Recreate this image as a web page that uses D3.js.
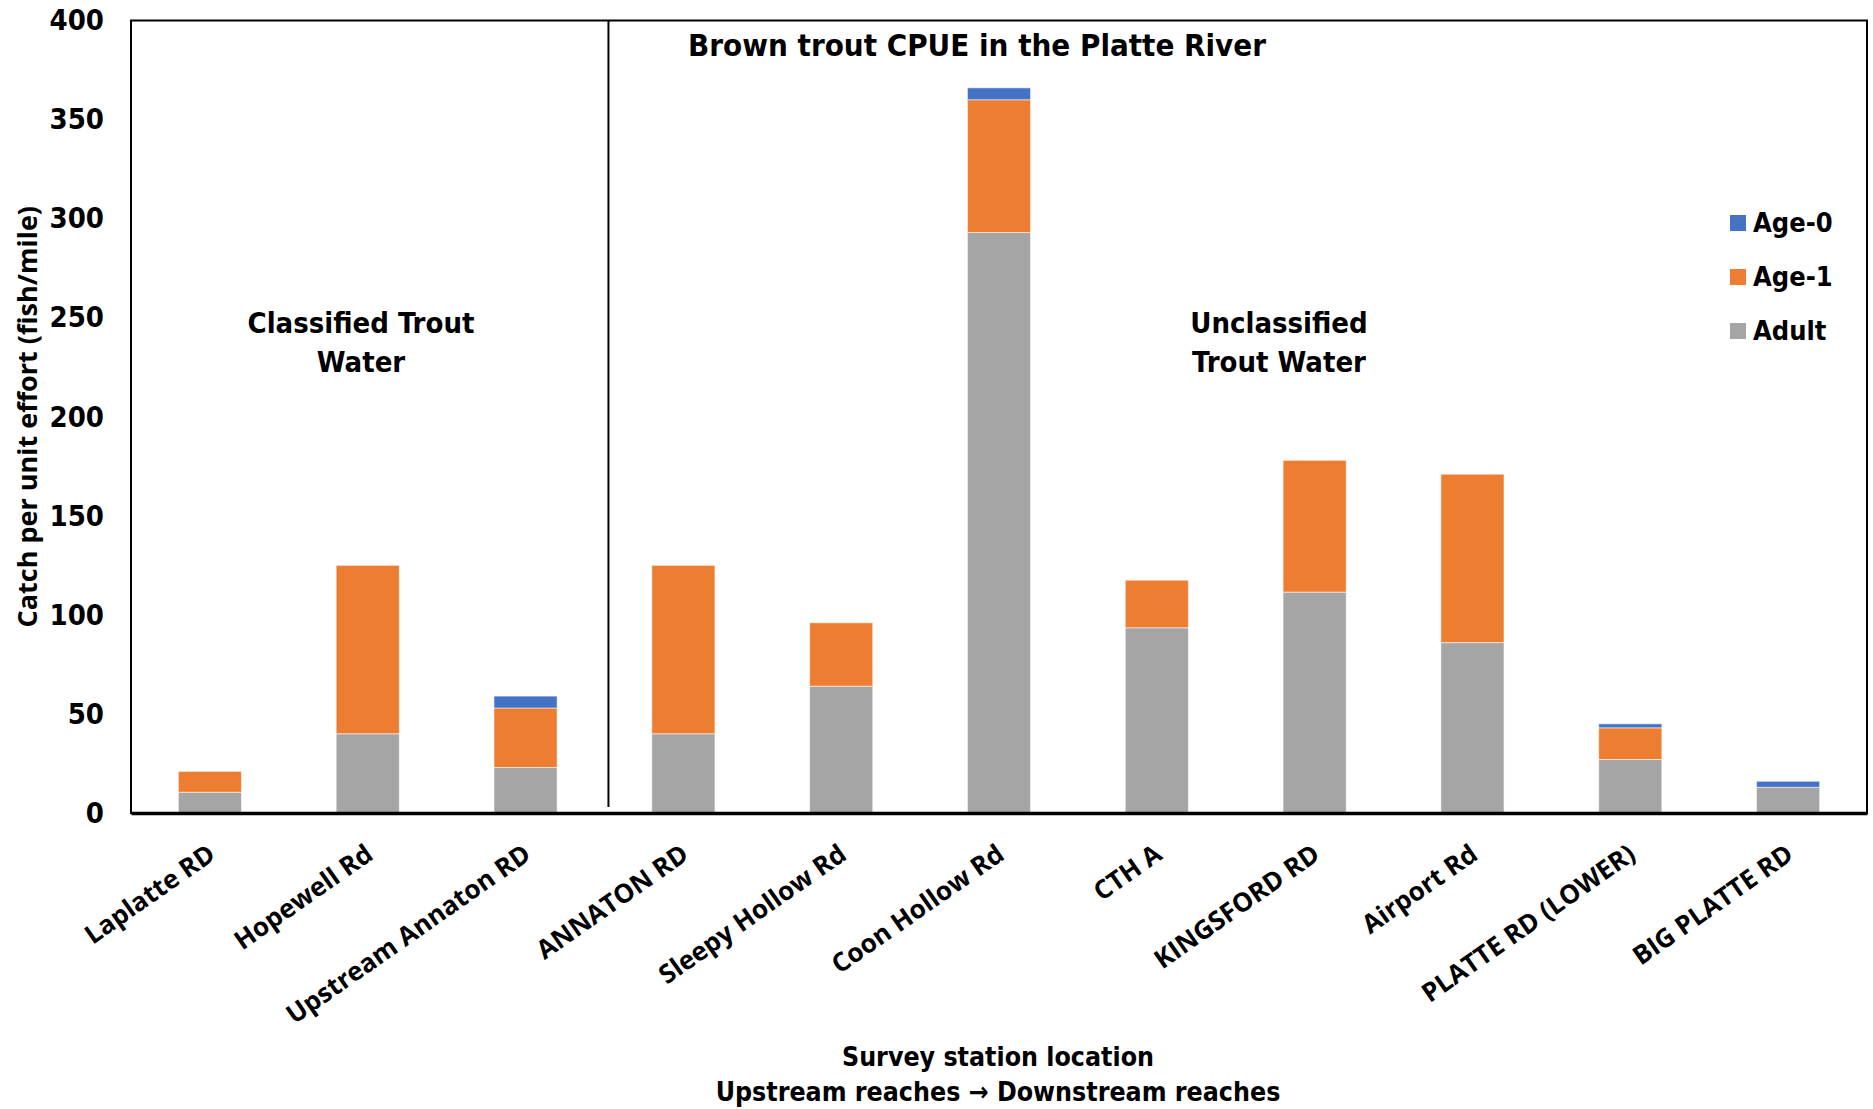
<!DOCTYPE html>
<html>
<head>
<meta charset="utf-8">
<script src="https://cdn.jsdelivr.net/npm/d3@7"></script>
<style>
  body { margin: 0; background: #ffffff; }
</style>
</head>
<body>
<svg id="chart" width="1873" height="1109"></svg>
<script>
// Survey stations, upstream to downstream
const stations = [
  "Laplatte RD", "Hopewell Rd", "Upstream Annaton RD", "ANNATON RD",
  "Sleepy Hollow Rd", "Coon Hollow Rd", "CTH A", "KINGSFORD RD",
  "Airport Rd", "PLATTE RD (LOWER)", "BIG PLATTE RD"
];
// Catch per unit effort (fish/mile) by age class
const adult = [10.5, 40, 23, 40, 64, 293, 93.5, 111.5, 86, 27, 13];
const age1  = [10.5, 85, 30, 85, 32, 67, 24, 66.5, 85, 16, 0];
const age0  = [0, 0, 6, 0, 0, 6, 0, 0, 0, 2, 3];

const seriesKeys = ["Adult", "Age-1", "Age-0"];
const seriesColors = ["#a5a5a5", "#ed7d31", "#4472c4"];
const legendKeys = ["Age-0", "Age-1", "Adult"];
const yTicks = [0, 50, 100, 150, 200, 250, 300, 350, 400];
const classifiedCount = 3; // first three stations are classified trout water

const condensed = "'Liberation Sans Narrow','DejaVu Sans Condensed','Roboto',sans-serif";
const wide = "'Open Sans','Noto Sans',sans-serif";

const svg = d3.select("#chart");
const plot = { left: 131, right: 1867, top: 20.5, bottom: 813 };

const x = d3.scaleBand()
  .domain(stations)
  .range([plot.left, plot.right])
  .paddingInner(0.6)
  .paddingOuter(0.3);

const y = d3.scaleLinear()
  .domain([0, 400])
  .range([plot.bottom, plot.top]);

const rows = stations.map((s, i) => ({
  station: s, "Adult": adult[i], "Age-1": age1[i], "Age-0": age0[i]
}));
const stacked = d3.stack().keys(seriesKeys)(rows);
const color = d3.scaleOrdinal().domain(seriesKeys).range(seriesColors);

// stacked bars
svg.append("g")
  .selectAll("g")
  .data(stacked)
  .join("g")
    .attr("fill", d => color(d.key))
  .selectAll("rect")
  .data(d => d.filter(p => p[1] - p[0] > 0))
  .join("rect")
    .attr("x", d => x(d.data.station))
    .attr("width", x.bandwidth())
    .attr("y", d => y(d[1]))
    .attr("height", d => y(d[0]) - y(d[1]))
    .attr("stroke", "#ffffff")
    .attr("stroke-opacity", 0.55)
    .attr("stroke-width", 1);

// plot frame
svg.append("rect")
  .attr("x", plot.left).attr("y", plot.top)
  .attr("width", plot.right - plot.left)
  .attr("height", plot.bottom - plot.top)
  .attr("fill", "none")
  .attr("stroke", "#000").attr("stroke-width", 2);

// y axis (labels only)
const yAxis = svg.append("g")
  .attr("transform", `translate(${plot.left},0)`)
  .call(d3.axisLeft(y).tickValues(yTicks).tickSize(0).tickPadding(27));
yAxis.select(".domain").remove();
yAxis.selectAll("text")
  .attr("font-family", condensed)
  .attr("font-weight", "bold")
  .attr("font-size", 29)
  .attr("fill", "#000");

// x axis: baseline and rotated station labels
const xAxis = svg.append("g")
  .attr("transform", `translate(0,${plot.bottom})`)
  .call(d3.axisBottom(x).tickSize(0).tickFormat(""));
xAxis.select(".domain")
  .attr("stroke", "#000").attr("stroke-width", 3.5);

svg.append("g")
  .selectAll("text")
  .data(stations)
  .join("text")
    .attr("transform", d => `translate(${x(d) + x.bandwidth() / 2 + 7},${plot.bottom + 45}) rotate(-35)`)
    .attr("text-anchor", "end")
    .attr("font-family", wide)
    .attr("font-weight", "bold")
    .attr("font-size", 26)
    .attr("fill", "#000")
    .text(d => d);

// divider between classified and unclassified reaches
const divX = (x(stations[classifiedCount - 1]) + x.bandwidth() + x(stations[classifiedCount])) / 2 + 4;
svg.append("line")
  .attr("x1", divX).attr("x2", divX)
  .attr("y1", plot.top).attr("y2", plot.bottom - 6)
  .attr("stroke", "#000").attr("stroke-width", 2);

// title
svg.append("text")
  .attr("x", 977).attr("y", 56)
  .attr("text-anchor", "middle")
  .attr("font-family", condensed)
  .attr("font-weight", "bold")
  .attr("font-size", 31)
  .attr("fill", "#000")
  .text("Brown trout CPUE in the Platte River");

// region annotations
function block(cx, lines) {
  const t = svg.append("text")
    .attr("text-anchor", "middle")
    .attr("font-family", condensed)
    .attr("font-weight", "bold")
    .attr("font-size", 29)
    .attr("fill", "#000");
  lines.forEach((ln, i) => {
    t.append("tspan").attr("x", cx).attr("y", 333 + i * 39).text(ln);
  });
}
block(361, ["Classified Trout", "Water"]);
block(1279, ["Unclassified", "Trout Water"]);

// legend
const legend = svg.append("g")
  .selectAll("g")
  .data(legendKeys)
  .join("g")
    .attr("transform", (d, i) => `translate(1730,${215 + i * 54})`);
legend.append("rect")
  .attr("width", 16).attr("height", 16)
  .attr("fill", d => color(d));
legend.append("text")
  .attr("x", 23).attr("y", 17)
  .attr("font-family", condensed)
  .attr("font-weight", "bold")
  .attr("font-size", 27)
  .attr("fill", "#000")
  .text(d => d);

// y axis title
svg.append("text")
  .attr("transform", `translate(37,${(plot.top + plot.bottom) / 2 + 0}) rotate(-90)`)
  .attr("text-anchor", "middle")
  .attr("font-family", wide)
  .attr("font-weight", "bold")
  .attr("font-size", 27)
  .attr("fill", "#000")
  .text("Catch per unit effort (fish/mile)");

// x axis title
const xt = svg.append("text")
  .attr("text-anchor", "middle")
  .attr("font-family", condensed)
  .attr("font-weight", "bold")
  .attr("font-size", 26.5)
  .attr("fill", "#000");
xt.append("tspan").attr("x", 998).attr("y", 1066).text("Survey station location");
xt.append("tspan").attr("x", 998).attr("y", 1101).text("Upstream reaches \u2192 Downstream reaches");
</script>
</body>
</html>
